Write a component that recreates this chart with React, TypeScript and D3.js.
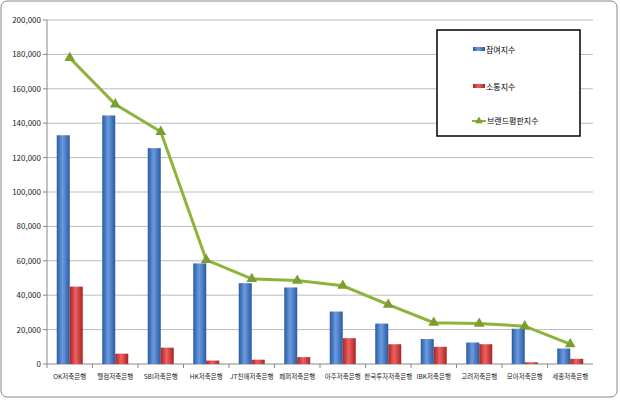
import * as d3 from 'd3';

const WIDTH = 620;
const HEIGHT = 400;
const MARGIN = { top: 20, right: 27, bottom: 36, left: 47 };

const categories = ['OK저축은행', '웰컴저축은행', 'SBI저축은행', 'HK저축은행', 'JT친애저축은행', '페퍼저축은행', '아주저축은행', '한국투자저축은행', 'IBK저축은행', '고려저축은행', '모아저축은행', '세종저축은행'];
const participation = [133000, 144500, 125500, 58500, 47000, 44500, 30500, 23500, 14500, 12500, 20500, 9000];
const communication = [45000, 6000, 9500, 2000, 2500, 4000, 15000, 11500, 10000, 11500, 1000, 3000];
const reputation = [178000, 151000, 135000, 60500, 49500, 48500, 45500, 34500, 24000, 23500, 22000, 11500];
const yTicks = [0, 20000, 40000, 60000, 80000, 100000, 120000, 140000, 160000, 180000, 200000];

export default function App() {
  const x = d3.scaleBand().domain(categories).range([MARGIN.left, WIDTH - MARGIN.right]);
  const y = d3.scaleLinear().domain([0, 200000]).range([HEIGHT - MARGIN.bottom, MARGIN.top]);
  const bw = 13;
  const cx = (i: number) => (x(categories[i]) || 0) + x.bandwidth() / 2;
  const line = d3.line<number>().x((_, i) => cx(i)).y((d) => y(d));
  const fmt = d3.format(',');

  return (
    <svg width={WIDTH} height={HEIGHT} style={{ position: 'absolute', left: 0, top: 0, fontFamily: 'Noto Sans CJK KR, sans-serif' }}>
      <defs>
        <linearGradient id="blue" x1="0" x2="1">
          <stop offset="0" stopColor="#2a5aa0" />
          <stop offset="0.45" stopColor="#6a9be0" />
          <stop offset="1" stopColor="#2a5aa0" />
        </linearGradient>
        <linearGradient id="red" x1="0" x2="1">
          <stop offset="0" stopColor="#a82424" />
          <stop offset="0.45" stopColor="#f06060" />
          <stop offset="1" stopColor="#a82424" />
        </linearGradient>
      </defs>
      <rect x={1} y={1} width={WIDTH - 4} height={HEIGHT - 4} rx={6} fill="white" stroke="#888" />
      {yTicks.map((t) => (
        <g key={t}>
          {t > 0 && <line x1={MARGIN.left} x2={WIDTH - MARGIN.right} y1={y(t)} y2={y(t)} stroke="#bbb" />}
          <line x1={MARGIN.left - 4} x2={MARGIN.left} y1={y(t)} y2={y(t)} stroke="#888" />
          <text x={MARGIN.left - 6} y={y(t) + 3} textAnchor="end" fontSize={8} fill="#222">{fmt(t)}</text>
        </g>
      ))}
      <line x1={MARGIN.left} x2={MARGIN.left} y1={MARGIN.top} y2={y(0)} stroke="#888" />
      <line x1={MARGIN.left} x2={WIDTH - MARGIN.right} y1={y(0)} y2={y(0)} stroke="#888" />
      {categories.map((c, i) => (
        <g key={c}>
          <line x1={x(c) || 0} x2={x(c) || 0} y1={y(0)} y2={y(0) + 4} stroke="#888" />
          <rect x={cx(i) - bw} y={y(participation[i])} width={bw} height={y(0) - y(participation[i])} fill="url(#blue)" />
          <rect x={cx(i)} y={y(communication[i])} width={bw} height={y(0) - y(communication[i])} fill="url(#red)" />
          <text x={cx(i)} y={y(0) + 15} textAnchor="middle" fontSize={6.5} fill="#222">{c}</text>
        </g>
      ))}
      <path d={line(reputation) || ''} fill="none" stroke="#8db33a" strokeWidth={3} />
      {reputation.map((v, i) => (
        <path key={i} d={d3.symbol(d3.symbolTriangle, 50)() || ''} transform={`translate(${cx(i)},${y(v)})`} fill="#7a9e30" />
      ))}
      <rect x={437} y={30} width={143} height={106} fill="white" stroke="#000" strokeWidth={1.5} />
      <rect x={473} y={47} width={12} height={4} fill="url(#blue)" />
      <text x={486} y={53} fontSize={8}>참여지수</text>
      <rect x={473} y={84} width={12} height={4} fill="url(#red)" />
      <text x={486} y={90} fontSize={8}>소통지수</text>
      <line x1={472} x2={486} y1={121} y2={121} stroke="#8db33a" strokeWidth={2} />
      <path d={d3.symbol(d3.symbolTriangle, 25)() || ''} transform="translate(479,121)" fill="#7a9e30" />
      <text x={487} y={124} fontSize={8}>브랜드평판지수</text>
    </svg>
  );
}
